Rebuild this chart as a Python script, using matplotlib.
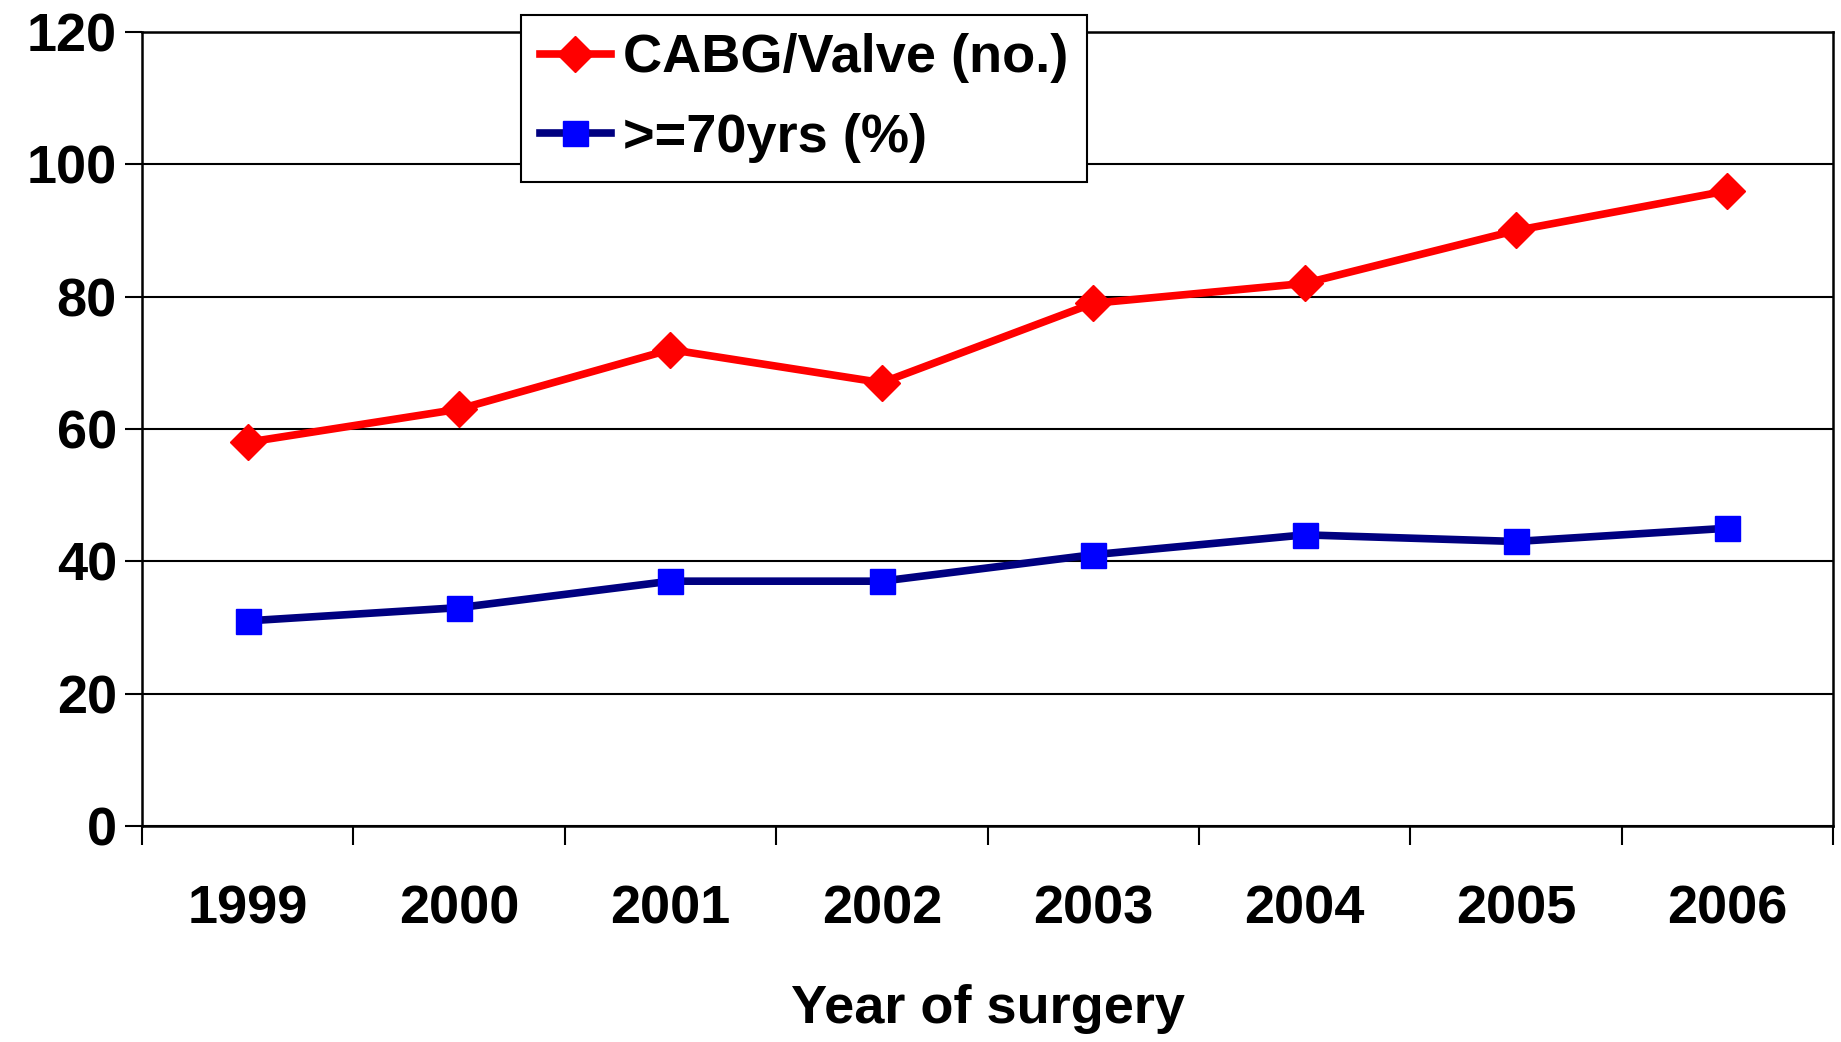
import matplotlib.pyplot as plt
from matplotlib.ticker import FixedLocator, NullFormatter

# data
years = ['1999', '2000', '2001', '2002', '2003', '2004', '2005', '2006']
cabg_valve = [58, 63, 72, 67, 79, 82, 90, 96]
over_70 = [31, 33, 37, 37, 41, 44, 43, 45]
y_ticks = [0, 20, 40, 60, 80, 100, 120]

plt.rcParams['font.family'] = ['Liberation Sans', 'DejaVu Sans']
plt.rcParams['font.weight'] = 'bold'
fs = 39

fig = plt.figure(figsize=(18.41, 10.42), dpi=100)
ax = fig.add_axes([0.0771, 0.2073, 0.9186, 0.762])

x = list(range(len(years)))
ax.plot(x, cabg_valve, color='#ff0000', lw=5.5, marker='D', markersize=18,
        markerfacecolor='#ff0000', markeredgecolor='#ff0000', label='CABG/Valve (no.)')
ax.plot(x, over_70, color='#000080', lw=5.5, marker='s', markersize=18,
        markerfacecolor='#0000ff', markeredgecolor='#0000ff', label='>=70yrs (%)')

ax.set_xlim(-0.5, len(years) - 0.5)
ax.set_ylim(0, 120)
ax.set_yticks(y_ticks)
ax.set_yticklabels([str(v) for v in y_ticks], fontsize=fs, fontweight='bold')
ax.grid(axis='y', color='black', lw=1.5)
ax.set_axisbelow(True)

# category labels at centres, tick marks at category boundaries
ax.set_xticks(x)
ax.set_xticklabels(years, fontsize=fs, fontweight='bold')
ax.tick_params(axis='x', which='major', length=0, pad=42)
ax.xaxis.set_minor_locator(FixedLocator([i - 0.5 for i in range(len(years) + 1)]))
ax.xaxis.set_minor_formatter(NullFormatter())
ax.tick_params(axis='x', which='minor', length=14, width=1.5, direction='out')
ax.tick_params(axis='y', length=12, width=1.5, direction='out', pad=6)

for s in ax.spines.values():
    s.set_linewidth(1.8)
    s.set_color('black')

ax.set_xlabel('Year of surgery', fontsize=fs, fontweight='bold', labelpad=36)

leg = ax.legend(loc='upper left', bbox_to_anchor=(0.2243, 1.022), fontsize=fs,
                frameon=True, fancybox=False, framealpha=1, edgecolor='black',
                handlelength=1.3, handletextpad=0.22, borderpad=0.35,
                labelspacing=0.55, borderaxespad=0)
leg.get_frame().set_linewidth(1.5)
for t in leg.get_texts():
    t.set_fontweight('bold')

fig.savefig('out.png', dpi=100)
